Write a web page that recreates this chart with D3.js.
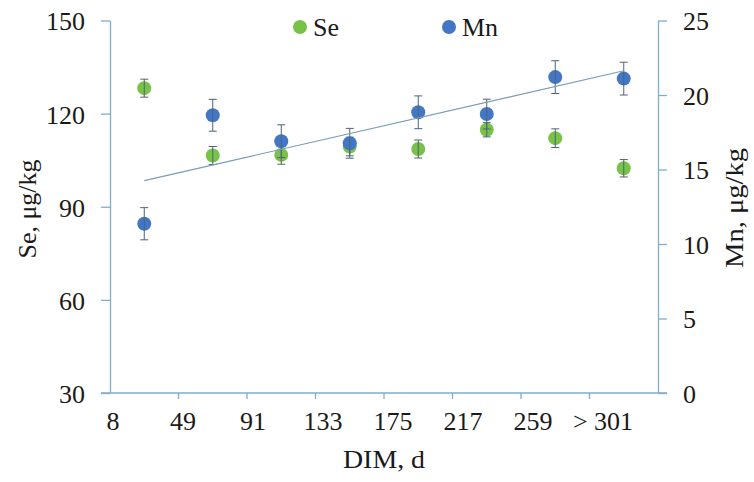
<!DOCTYPE html>
<html>
<head>
<meta charset="utf-8">
<script src="https://cdn.jsdelivr.net/npm/d3@7"></script>
<style>
  html, body { margin: 0; padding: 0; background: #fff; }
  svg text { font-family: "Liberation Serif", "Times New Roman", serif; fill: #1a1a1a; }
</style>
</head>
<body>
<svg id="chart" width="754" height="482"></svg>
<script>
// DIM intervals (start of each interval, days)
const dimLabels = ["8", "49", "91", "133", "175", "217", "259", "> 301"];

// Selenium, µg/kg (left axis) with error
const seValues = [128.2, 106.5, 106.7, 109.4, 108.6, 114.8, 112.1, 102.4];
const seErrors = [2.9, 2.9, 3.0, 3.0, 2.9, 2.3, 3.0, 2.8];

// Manganese, µg/kg (right axis) with error
const mnValues = [11.36, 18.64, 16.9, 16.76, 18.84, 18.72, 21.2, 21.1];
const mnErrors = [1.08, 1.07, 1.1, 1.0, 1.1, 1.0, 1.1, 1.1];

// Axis tick values
const seTicks = [30, 60, 90, 120, 150];
const mnTicks = [0, 5, 10, 15, 20, 25];

const colSe = "#79c24a";
const colMn = "#4377c6";
const colAxis = "#7eaecb";
const colErr = "#4d6473";
const colTrend = "#7c9cb2";

const svg = d3.select("#chart");
const plotL = 110, plotR = 658, plotT = 20.5, plotB = 393;

const x = d3.scaleBand().domain(dimLabels).range([plotL, plotR]).padding(0);
const ySe = d3.scaleLinear().domain([30, 150]).range([plotB, plotT]);
const yMn = d3.scaleLinear().domain([0, 25]).range([plotB, plotT]);
const cx = d => x(d) + x.bandwidth() / 2;

// Left axis
const gl = svg.append("g").attr("transform", `translate(${plotL},0)`)
  .call(d3.axisLeft(ySe).tickValues(seTicks).tickSize(9).tickSizeOuter(0).tickPadding(16));
gl.select(".domain").attr("stroke", colAxis).attr("stroke-width", 1.3);
gl.selectAll(".tick line").attr("stroke", colAxis).attr("stroke-width", 1.3);
gl.selectAll(".tick text").attr("font-size", 26).attr("dy", "0.36em")
  .attr("font-family", "Liberation Serif, serif").attr("fill", "#1a1a1a");

// Right axis
const gr = svg.append("g").attr("transform", `translate(${plotR},0)`)
  .call(d3.axisRight(yMn).tickValues(mnTicks).tickSize(9).tickSizeOuter(0).tickPadding(16));
gr.select(".domain").attr("stroke", colAxis).attr("stroke-width", 1.3);
gr.selectAll(".tick line").attr("stroke", colAxis).attr("stroke-width", 1.3);
gr.selectAll(".tick text").attr("font-size", 26).attr("dy", "0.36em")
  .attr("font-family", "Liberation Serif, serif").attr("fill", "#1a1a1a");

// Bottom axis: ticks at interval boundaries
const gx = svg.append("g");
gx.append("line")
  .attr("x1", plotL - 9).attr("x2", plotR + 9)
  .attr("y1", plotB).attr("y2", plotB)
  .attr("stroke", colAxis).attr("stroke-width", 1.3);
gx.selectAll("line.tk").data(dimLabels.slice(1)).join("line")
  .attr("class", "tk")
  .attr("x1", d => x(d)).attr("x2", d => x(d))
  .attr("y1", plotB).attr("y2", plotB + 6)
  .attr("stroke", colAxis).attr("stroke-width", 1.3);
gx.selectAll("text").data(dimLabels).join("text")
  .attr("x", (d, i) => x(d) + 3 + i * 1.5)
  .attr("y", 430)
  .attr("text-anchor", "middle")
  .attr("font-size", 26)
  .text(d => d);

// Axis titles
svg.append("text")
  .attr("transform", "translate(36,209) rotate(-90)")
  .attr("text-anchor", "middle").attr("font-size", 26)
  .text("Se, μg/kg");
svg.append("text")
  .attr("transform", "translate(743,208) rotate(-90)")
  .attr("text-anchor", "middle").attr("font-size", 26)
  .attr("textLength", 120).attr("lengthAdjust", "spacingAndGlyphs")
  .text("Mn, μg/kg");
svg.append("text")
  .attr("x", 384).attr("y", 468)
  .attr("text-anchor", "middle").attr("font-size", 26)
  .attr("textLength", 82).attr("lengthAdjust", "spacingAndGlyphs")
  .text("DIM, d");

// Series drawing helper
function drawSeries(values, errors, yScale, color) {
  const g = svg.append("g");
  const data = dimLabels.map((d, i) => ({ d, v: values[i], e: errors[i] }));
  g.selectAll("circle").data(data).join("circle")
    .attr("cx", p => cx(p.d)).attr("cy", p => yScale(p.v))
    .attr("r", 7).attr("fill", color);
  g.selectAll("line.eb").data(data).join("line").attr("class", "eb")
    .attr("x1", p => cx(p.d)).attr("x2", p => cx(p.d))
    .attr("y1", p => yScale(p.v + p.e)).attr("y2", p => yScale(p.v - p.e))
    .attr("stroke", colErr).attr("stroke-width", 1);
  [1, -1].forEach(s => {
    const cls = s > 0 ? "capt" : "capb";
    g.selectAll("line." + cls).data(data).join("line")
      .attr("class", cls)
      .attr("x1", p => cx(p.d) - 4).attr("x2", p => cx(p.d) + 4)
      .attr("y1", p => yScale(p.v + s * p.e))
      .attr("y2", p => yScale(p.v + s * p.e))
      .attr("stroke", colErr).attr("stroke-width", 1);
  });
}

drawSeries(seValues, seErrors, ySe, colSe);
drawSeries(mnValues, mnErrors, yMn, colMn);

// Linear trend of Mn over the intervals (least squares)
const n = mnValues.length;
const idx = d3.range(1, n + 1);
const mx = d3.mean(idx), my = d3.mean(mnValues);
const slope = d3.sum(idx, (k, i) => (k - mx) * (mnValues[i] - my)) / d3.sum(idx, k => (k - mx) ** 2);
const icpt = my - slope * mx;
svg.append("line")
  .attr("x1", cx(dimLabels[0])).attr("y1", yMn(icpt + slope * 1))
  .attr("x2", cx(dimLabels[n - 1])).attr("y2", yMn(icpt + slope * n))
  .attr("stroke", colTrend).attr("stroke-width", 1.2);

// Legend
const legend = [{ name: "Se", color: colSe, x: 300 }, { name: "Mn", color: colMn, x: 449 }];
const lg = svg.append("g");
lg.selectAll("circle").data(legend).join("circle")
  .attr("cx", d => d.x).attr("cy", 27).attr("r", 7).attr("fill", d => d.color);
lg.selectAll("text").data(legend).join("text")
  .attr("x", d => d.x + 13).attr("y", 36).attr("font-size", 26)
  .text(d => d.name);
</script>
</body>
</html>
